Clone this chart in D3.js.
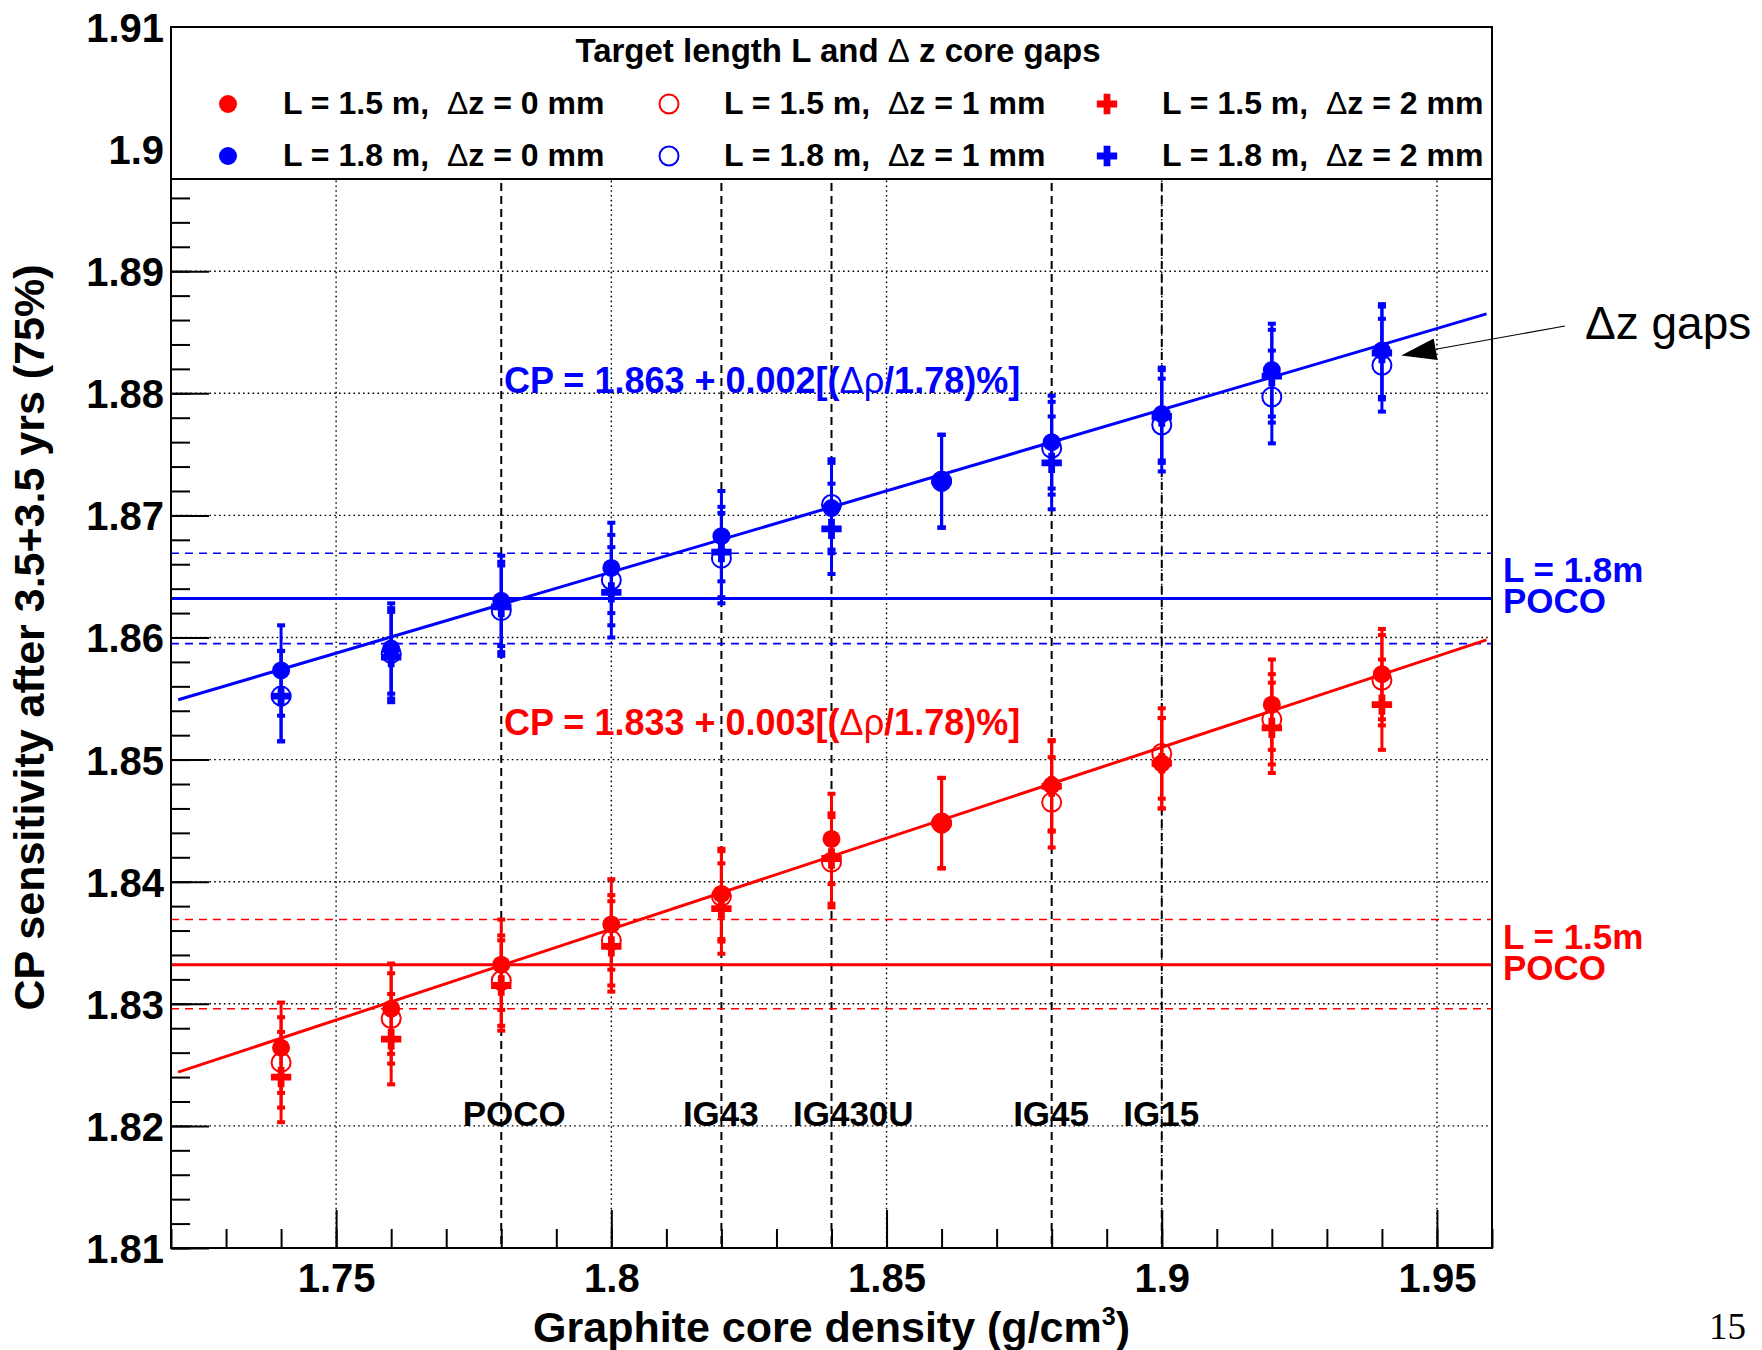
<!DOCTYPE html>
<html>
  <head>
    <meta charset="UTF-8">
    <title>CP sensitivity vs graphite core density</title>
    <script src="https://d3js.org/d3.v7.min.js"></script>
    <style>
      body { margin: 0; background: #fff; }
      text { font-family: "Liberation Sans", Arial, Helvetica, sans-serif; }
    </style>
  </head>
  <body>
    <svg width="1762" height="1350"></svg>
    <script>
      // data
      const density = [1.74, 1.76, 1.78, 1.80, 1.82, 1.84, 1.86, 1.88, 1.90, 1.92, 1.94];

      const cpL15dz0 = [1.8264, 1.8296, 1.8332, 1.8365, 1.8390, 1.8435, 1.8448, 1.8479, 1.8497, 1.8545, 1.8570];
      const cpL15dz1 = [1.8252, 1.8288, 1.8319, 1.8352, 1.8388, 1.8416, 1.8448, 1.8465, 1.8505, 1.8533, 1.8565];
      const cpL15dz2 = [1.8240, 1.8271, 1.8315, 1.8347, 1.8378, 1.8419, 1.8448, 1.8478, 1.8497, 1.8526, 1.8545];
      const cpL18dz0 = [1.8573, 1.8591, 1.8630, 1.8657, 1.8683, 1.8706, 1.8728, 1.8760, 1.8783, 1.8819, 1.8835];
      const cpL18dz1 = [1.8552, 1.8587, 1.8622, 1.8647, 1.8665, 1.8709, 1.8728, 1.8755, 1.8774, 1.8797, 1.8823];
      const cpL18dz2 = [1.8552, 1.8584, 1.8625, 1.8637, 1.8670, 1.8689, 1.8728, 1.8743, 1.8781, 1.8814, 1.8833];

      const errL15 = [0.0037, 0.0037, 0.0037, 0.0037, 0.0037, 0.0037, 0.0037, 0.0037, 0.0037, 0.0037, 0.0037];
      const errL18 = [0.0037, 0.0037, 0.0037, 0.0037, 0.0037, 0.0037, 0.0038, 0.0038, 0.0038, 0.0038, 0.0038];

      // linear fits (end points)
      const fitX = [1.7213, 1.959];
      const fitL15 = [1.8244, 1.8598];
      const fitL18 = [1.8549, 1.8865];

      // POCO reference values and +-0.2% bands
      const pocoL15 = 1.8332, bandL15 = [1.8296, 1.8369];
      const pocoL18 = 1.8632, bandL18 = [1.8595, 1.8669];

      const materials = ["POCO", "IG43", "IG430U", "IG45", "IG15"];
      const materialDensity = [1.78, 1.82, 1.84, 1.88, 1.90];

      const legendLabels = [
        "L = 1.5 m,  Δz = 0 mm", "L = 1.5 m,  Δz = 1 mm", "L = 1.5 m,  Δz = 2 mm",
        "L = 1.8 m,  Δz = 0 mm", "L = 1.8 m,  Δz = 1 mm", "L = 1.8 m,  Δz = 2 mm"
      ];

      const RED = "#ff0000", BLUE = "#0000ff";

      const series = [
        { y: cpL15dz0, err: errL15, color: RED, marker: "full" },
        { y: cpL15dz1, err: errL15, color: RED, marker: "open" },
        { y: cpL15dz2, err: errL15, color: RED, marker: "cross" },
        { y: cpL18dz0, err: errL18, color: BLUE, marker: "full" },
        { y: cpL18dz1, err: errL18, color: BLUE, marker: "open" },
        { y: cpL18dz2, err: errL18, color: BLUE, marker: "cross" },
      ];

      const pL = 171, pR = 1492, pT = 27, pB = 1248;
      const legendBottom = 179;

      const x = d3.scaleLinear().domain([1.72, 1.96]).range([pL, pR]);
      const y = d3.scaleLinear().domain([1.81, 1.91]).range([pB, pT]);

      const svg = d3.select("svg");
      const fmt = d => String(+d.toFixed(2));

      // grid
      const grid = svg.append("g")
        .attr("stroke", "#000")
        .attr("stroke-width", 1.4)
        .attr("stroke-dasharray", "1.6,3.2");
      grid.append("g").selectAll("line")
        .data(x.ticks(5))
        .join("line")
        .attr("x1", d => x(d)).attr("x2", d => x(d))
        .attr("y1", pT).attr("y2", pB);
      grid.append("g").selectAll("line")
        .data(y.ticks(10).filter(d => d > 1.811 && d < 1.909))
        .join("line")
        .attr("x1", pL).attr("x2", pR)
        .attr("y1", d => y(d)).attr("y2", d => y(d));

      // material density markers
      svg.append("g")
        .attr("stroke", "#000")
        .attr("stroke-width", 2)
        .attr("stroke-dasharray", "8,5")
        .selectAll("line")
        .data(materialDensity)
        .join("line")
        .attr("x1", d => x(d)).attr("x2", d => x(d))
        .attr("y1", pT).attr("y2", pB);

      svg.append("g")
        .attr("font-size", 35)
        .attr("font-weight", "bold")
        .selectAll("text")
        .data(materials)
        .join("text")
        .attr("x", (d, i) => x(materialDensity[i] - 0.007))
        .attr("y", y(1.82))
        .text(d => d);

      // POCO reference lines
      const refs = [
        { v: pocoL15, band: bandL15, color: RED, label: ["L = 1.5m", "POCO"] },
        { v: pocoL18, band: bandL18, color: BLUE, label: ["L = 1.8m", "POCO"] },
      ];
      refs.forEach(r => {
        svg.append("line")
          .attr("x1", pL).attr("x2", pR)
          .attr("y1", y(r.v)).attr("y2", y(r.v))
          .attr("stroke", r.color).attr("stroke-width", 3);
        svg.append("g").selectAll("line")
          .data(r.band)
          .join("line")
          .attr("x1", pL).attr("x2", pR)
          .attr("y1", d => y(d)).attr("y2", d => y(d))
          .attr("stroke", r.color).attr("stroke-width", 1.6)
          .attr("stroke-dasharray", "8,6");
        const t = svg.append("text")
          .attr("x", pR + 11)
          .attr("y", y(r.v) - 16)
          .attr("fill", r.color)
          .attr("font-size", 35)
          .attr("font-weight", "bold");
        t.append("tspan").text(r.label[0]);
        t.append("tspan").attr("x", pR + 11).attr("dy", 31).text(r.label[1]);
      });

      // fits
      const fitLine = d3.line().x((d, i) => x(fitX[i])).y(d => y(d));
      svg.append("path").attr("d", fitLine(fitL15))
        .attr("fill", "none").attr("stroke", RED).attr("stroke-width", 3);
      svg.append("path").attr("d", fitLine(fitL18))
        .attr("fill", "none").attr("stroke", BLUE).attr("stroke-width", 3);

      function richText(sel, str) {
        str.split(/([Δρ])/).forEach(p => {
          if (!p) return;
          const t = sel.append("tspan").text(p);
          if (p === "Δ" || p === "ρ") t.attr("font-weight", "normal");
        });
      }

      const fitText = [
        { s: "CP = 1.863 + 0.002[(Δρ/1.78)%]", yv: 1.880, color: BLUE },
        { s: "CP = 1.833 + 0.003[(Δρ/1.78)%]", yv: 1.852, color: RED },
      ];
      fitText.forEach(f => {
        const t = svg.append("text")
          .attr("x", x(1.7805)).attr("y", y(f.yv))
          .attr("fill", f.color)
          .attr("font-size", 36)
          .attr("font-weight", "bold");
        richText(t, f.s);
      });

      // error bars and markers
      const crossPath = d3.symbol(d3.symbolCross, 230)();
      series.forEach(s => {
        const g = svg.append("g");
        const pts = density.map((d, i) => ({ x: d, y: s.y[i], e: s.err[i] }));
        g.append("g").selectAll("line")
          .data(pts).join("line")
          .attr("x1", d => x(d.x)).attr("x2", d => x(d.x))
          .attr("y1", d => y(d.y - d.e)).attr("y2", d => y(d.y + d.e))
          .attr("stroke", s.color).attr("stroke-width", 3);
        g.append("g").selectAll("line")
          .data(pts.flatMap(d => [d.y - d.e, d.y + d.e].map(v => ({ x: d.x, v }))))
          .join("line")
          .attr("x1", d => x(d.x) - 4).attr("x2", d => x(d.x) + 4)
          .attr("y1", d => y(d.v)).attr("y2", d => y(d.v))
          .attr("stroke", s.color).attr("stroke-width", 4);
        if (s.marker === "full") {
          g.append("g").selectAll("circle").data(pts).join("circle")
            .attr("cx", d => x(d.x)).attr("cy", d => y(d.y))
            .attr("r", 9).attr("fill", s.color);
        } else if (s.marker === "open") {
          g.append("g").selectAll("circle").data(pts).join("circle")
            .attr("cx", d => x(d.x)).attr("cy", d => y(d.y))
            .attr("r", 9.5).attr("fill", "none")
            .attr("stroke", s.color).attr("stroke-width", 2);
        } else {
          g.append("g").selectAll("path").data(pts).join("path")
            .attr("d", crossPath)
            .attr("transform", d => `translate(${x(d.x)},${y(d.y)})`)
            .attr("fill", s.color);
        }
      });

      // axes
      const yMajor = y.ticks(10);
      const yMinor = d3.ticks(1.81, 1.91, 50).filter(d => y(d) >= legendBottom);
      const xMajor = x.ticks(5);
      const xMinor = d3.ticks(1.72, 1.96, 24);

      const yAxis = svg.append("g")
        .attr("transform", `translate(${pL},0)`)
        .call(d3.axisLeft(y).tickValues(yMajor).tickSize(-38).tickPadding(7).tickFormat(fmt));
      svg.append("g")
        .attr("transform", `translate(${pL},0)`)
        .call(d3.axisLeft(y).tickValues(yMinor).tickSize(-19).tickFormat(""));
      svg.append("g")
        .attr("transform", `translate(0,${pB})`)
        .call(d3.axisBottom(x).tickValues(xMajor).tickSize(-38).tickPadding(16).tickFormat(fmt));
      svg.append("g")
        .attr("transform", `translate(0,${pB})`)
        .call(d3.axisBottom(x).tickValues(xMinor).tickSize(-19).tickFormat(""));

      svg.selectAll(".domain").remove();
      svg.selectAll(".tick line").attr("stroke", "#000").attr("stroke-width", 2);
      svg.selectAll(".tick text")
        .attr("font-size", 40)
        .attr("font-weight", "bold")
        .attr("fill", "#000");
      yAxis.selectAll(".tick text").attr("dy", "0.36em");

      // legend
      const legend = svg.append("g");
      legend.append("rect")
        .attr("x", pL).attr("y", pT)
        .attr("width", pR - pL).attr("height", legendBottom - pT)
        .attr("fill", "#fff").attr("stroke", "#000").attr("stroke-width", 2);
      const lt = legend.append("text")
        .attr("x", 838).attr("y", 62)
        .attr("text-anchor", "middle")
        .attr("font-size", 33)
        .attr("font-weight", "bold")
        .style("white-space", "pre");
      richText(lt, "Target length L and Δ z core gaps");

      const colX = [228, 669, 1107];
      const rowY = [104, 156];
      series.forEach((s, i) => {
        const cx = colX[i % 3], cy = rowY[Math.floor(i / 3)];
        if (s.marker === "full") {
          legend.append("circle").attr("cx", cx).attr("cy", cy).attr("r", 9).attr("fill", s.color);
        } else if (s.marker === "open") {
          legend.append("circle").attr("cx", cx).attr("cy", cy).attr("r", 9.5)
            .attr("fill", "none").attr("stroke", s.color).attr("stroke-width", 2);
        } else {
          legend.append("path").attr("d", crossPath)
            .attr("transform", `translate(${cx},${cy})`).attr("fill", s.color);
        }
        const t = legend.append("text")
          .attr("x", cx + 55).attr("y", cy + 10)
          .attr("font-size", 32)
          .attr("font-weight", "bold")
          .style("white-space", "pre");
        richText(t, legendLabels[i]);
      });

      // frame
      svg.append("rect")
        .attr("x", pL).attr("y", pT)
        .attr("width", pR - pL).attr("height", pB - pT)
        .attr("fill", "none").attr("stroke", "#000").attr("stroke-width", 2);

      // axis titles
      const xt = svg.append("text")
        .attr("x", (pL + pR) / 2).attr("y", 1342)
        .attr("text-anchor", "middle")
        .attr("font-size", 43)
        .attr("font-weight", "bold")
        .text("Graphite core density (g/cm");
      xt.append("tspan").attr("dy", -17).attr("font-size", 25).text("3");
      xt.append("tspan").attr("dy", 17).text(")");

      svg.append("text")
        .attr("transform", `translate(44,${(pT + pB) / 2}) rotate(-90)`)
        .attr("text-anchor", "middle")
        .attr("font-size", 43)
        .attr("font-weight", "bold")
        .text("CP sensitivity after 3.5+3.5 yrs (75%)");

      // annotation arrow
      const tip = [x(1.9435), y(1.8831)];
      const tail = [1565, 326];
      const ang = Math.atan2(tail[1] - tip[1], tail[0] - tip[0]);
      const hl = 35, hw = 11;
      const bx = tip[0] + hl * Math.cos(ang), by = tip[1] + hl * Math.sin(ang);
      svg.append("line")
        .attr("x1", tail[0]).attr("y1", tail[1]).attr("x2", bx).attr("y2", by)
        .attr("stroke", "#000").attr("stroke-width", 1.2);
      svg.append("path")
        .attr("d", d3.line()([
          tip,
          [bx - hw * Math.sin(ang), by + hw * Math.cos(ang)],
          [bx + hw * Math.sin(ang), by - hw * Math.cos(ang)]
        ]) + "Z")
        .attr("fill", "#000");
      svg.append("text")
        .attr("x", 1585).attr("y", 339)
        .attr("font-size", 46)
        .text("Δz gaps");

      svg.append("text")
        .attr("x", 1709).attr("y", 1339)
        .style("font-family", '"Liberation Serif", "Times New Roman", serif')
        .attr("font-size", 37)
        .text("15");
    </script>
  </body>
</html>
